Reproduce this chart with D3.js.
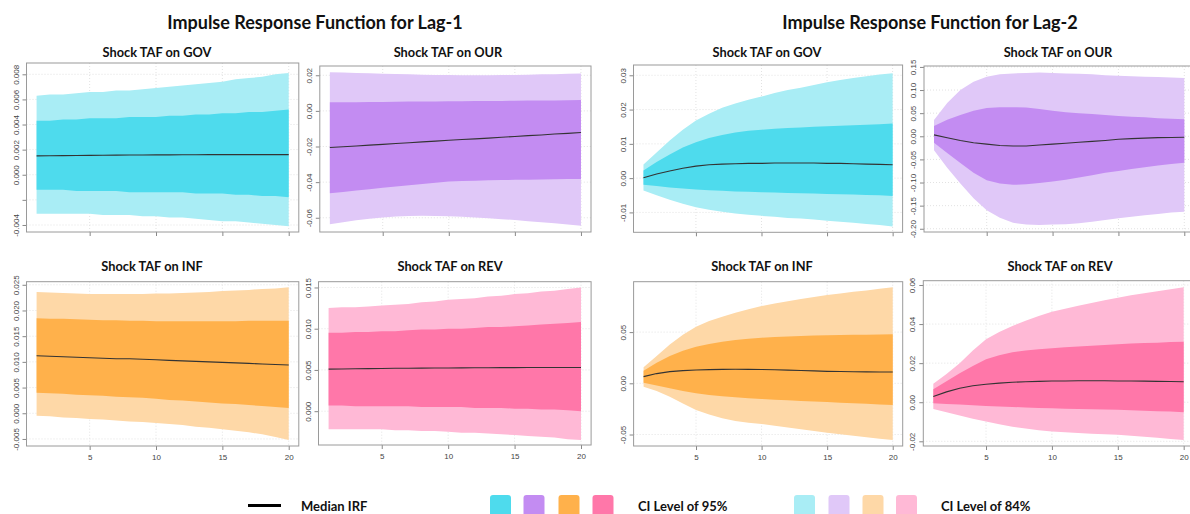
<!DOCTYPE html>
<html>
<head>
<meta charset="utf-8">
<script src="https://cdn.jsdelivr.net/npm/d3@7"></script>
<style>
  body { margin: 0; background: #fff; }
  .ttl { font-family: Lato, "Open Sans", sans-serif; font-weight: 700; fill: #111; }
  .tick text { font-family: "Liberation Sans", Arial, sans-serif; font-size: 8px; fill: #444; }
</style>
</head>
<body>
<svg width="1190" height="514"></svg>
<script>
const steps = d3.range(1, 21);
const xTicks = [5, 10, 15, 20];

// Lag-1, shock TAF on GOV
const gov1_hi84 = [0.0063,0.0064,0.0064,0.0065,0.0066,0.0066,0.0067,0.0067,0.0068,0.0069,0.0070,0.0071,0.0072,0.0073,0.0074,0.0076,0.0077,0.0078,0.0080,0.0081];
const gov1_hi95 = [0.0043,0.0043,0.0044,0.0044,0.0045,0.0045,0.0045,0.0046,0.0046,0.0046,0.0047,0.0047,0.0048,0.0048,0.0049,0.0049,0.0050,0.0050,0.0051,0.0052];
const gov1_med  = [0.00150,0.00151,0.00152,0.00153,0.00154,0.00155,0.00156,0.00157,0.00157,0.00158,0.00158,0.00159,0.00159,0.00160,0.00160,0.00160,0.00160,0.00160,0.00160,0.00160];
const gov1_lo95 = [-0.0012,-0.0012,-0.0012,-0.0013,-0.0013,-0.0013,-0.0013,-0.0014,-0.0014,-0.0014,-0.0014,-0.0014,-0.0015,-0.0015,-0.0015,-0.0016,-0.0016,-0.0017,-0.0017,-0.0018];
const gov1_lo84 = [-0.0031,-0.0031,-0.0031,-0.0031,-0.0031,-0.0032,-0.0032,-0.0032,-0.0033,-0.0033,-0.0034,-0.0034,-0.0035,-0.0036,-0.0037,-0.0037,-0.0038,-0.0039,-0.0040,-0.0041];

// Lag-1, shock TAF on OUR
const our1_hi84 = [0.0217,0.0215,0.0213,0.0211,0.0209,0.0207,0.0205,0.0203,0.0202,0.0201,0.0200,0.0200,0.0200,0.0201,0.0202,0.0203,0.0205,0.0206,0.0208,0.0210];
const our1_hi95 = [0.0048,0.0049,0.0049,0.0050,0.0050,0.0051,0.0052,0.0052,0.0053,0.0054,0.0054,0.0055,0.0056,0.0056,0.0057,0.0058,0.0058,0.0059,0.0060,0.0061];
const our1_med  = [-0.0206,-0.0201,-0.0197,-0.0192,-0.0188,-0.0183,-0.0179,-0.0174,-0.0170,-0.0165,-0.0161,-0.0157,-0.0153,-0.0148,-0.0144,-0.0139,-0.0135,-0.0130,-0.0126,-0.0121];
const our1_lo95 = [-0.0463,-0.0455,-0.0447,-0.0440,-0.0432,-0.0425,-0.0418,-0.0411,-0.0404,-0.0397,-0.0394,-0.0392,-0.0390,-0.0388,-0.0387,-0.0386,-0.0385,-0.0384,-0.0383,-0.0382];
const our1_lo84 = [-0.0637,-0.0625,-0.0614,-0.0605,-0.0598,-0.0593,-0.0590,-0.0589,-0.0590,-0.0592,-0.0595,-0.0599,-0.0603,-0.0608,-0.0613,-0.0619,-0.0625,-0.0631,-0.0638,-0.0645];

// Lag-2, shock TAF on GOV
const gov2_hi84 = [0.0040,0.0075,0.0110,0.0141,0.0168,0.0188,0.0205,0.0218,0.0229,0.0238,0.0248,0.0257,0.0264,0.0272,0.0280,0.0286,0.0292,0.0297,0.0302,0.0306];
const gov2_hi95 = [0.0022,0.0047,0.0069,0.0089,0.0105,0.0117,0.0126,0.0133,0.0138,0.0141,0.0144,0.0146,0.0148,0.0150,0.0151,0.0153,0.0154,0.0156,0.0157,0.0159];
const gov2_med  = [0.0001,0.0012,0.0021,0.0029,0.0035,0.0039,0.0041,0.0042,0.0043,0.0043,0.0044,0.0044,0.0044,0.0044,0.0043,0.0043,0.0042,0.0041,0.0040,0.0039];
const gov2_lo95 = [-0.0019,-0.0023,-0.0027,-0.0030,-0.0033,-0.0035,-0.0037,-0.0039,-0.0040,-0.0041,-0.0042,-0.0043,-0.0044,-0.0045,-0.0046,-0.0047,-0.0048,-0.0049,-0.0050,-0.0052];
const gov2_lo84 = [-0.0036,-0.0050,-0.0063,-0.0075,-0.0085,-0.0092,-0.0098,-0.0103,-0.0107,-0.0110,-0.0113,-0.0116,-0.0118,-0.0121,-0.0124,-0.0127,-0.0130,-0.0134,-0.0137,-0.0141];

// Lag-2, shock TAF on OUR
const our2_hi84 = [0.035,0.072,0.100,0.118,0.129,0.134,0.136,0.137,0.138,0.137,0.136,0.135,0.134,0.132,0.131,0.130,0.129,0.128,0.127,0.126];
const our2_hi95 = [0.022,0.036,0.046,0.055,0.061,0.063,0.063,0.062,0.059,0.055,0.052,0.050,0.048,0.046,0.044,0.042,0.041,0.039,0.038,0.037];
const our2_med  = [0.003,-0.003,-0.009,-0.014,-0.017,-0.020,-0.021,-0.021,-0.019,-0.017,-0.015,-0.013,-0.011,-0.009,-0.0065,-0.005,-0.004,-0.003,-0.0025,-0.002];
const our2_lo95 = [-0.014,-0.036,-0.058,-0.079,-0.095,-0.102,-0.105,-0.104,-0.101,-0.098,-0.094,-0.089,-0.084,-0.079,-0.075,-0.071,-0.067,-0.063,-0.060,-0.057];
const our2_lo84 = [-0.030,-0.068,-0.102,-0.134,-0.160,-0.176,-0.187,-0.191,-0.192,-0.191,-0.190,-0.188,-0.185,-0.181,-0.177,-0.174,-0.171,-0.168,-0.165,-0.163];

// Lag-1, shock TAF on INF
const inf1_hi84 = [0.0236,0.0235,0.0234,0.0233,0.0232,0.0232,0.0232,0.0232,0.0232,0.0233,0.0233,0.0234,0.0235,0.0236,0.0238,0.0239,0.0240,0.0242,0.0243,0.0245];
const inf1_hi95 = [0.0185,0.0184,0.0184,0.0183,0.0182,0.0181,0.0181,0.0180,0.0180,0.0179,0.0179,0.0179,0.0179,0.0179,0.0179,0.0179,0.0180,0.0180,0.0180,0.0180];
const inf1_med  = [0.0112,0.0111,0.0110,0.0109,0.0108,0.0107,0.0106,0.0106,0.0105,0.0104,0.0103,0.0102,0.0101,0.0100,0.0099,0.0098,0.0097,0.0096,0.0095,0.0094];
const inf1_lo95 = [0.0040,0.0039,0.0038,0.0036,0.0035,0.0034,0.0032,0.0031,0.0030,0.0028,0.0026,0.0025,0.0023,0.0021,0.0019,0.0018,0.0016,0.0014,0.0012,0.0010];
const inf1_lo84 = [-0.0005,-0.0006,-0.0008,-0.0009,-0.0011,-0.0012,-0.0014,-0.0016,-0.0017,-0.0019,-0.0021,-0.0023,-0.0026,-0.0028,-0.0031,-0.0034,-0.0037,-0.0041,-0.0046,-0.0052];

// Lag-1, shock TAF on REV
const rev1_hi84 = [0.0125,0.0126,0.0126,0.0127,0.0128,0.0129,0.0130,0.0132,0.0133,0.0135,0.0136,0.0137,0.0139,0.0140,0.0142,0.0143,0.0145,0.0146,0.0148,0.0150];
const rev1_hi95 = [0.0095,0.0095,0.0096,0.0096,0.0097,0.0097,0.0098,0.0099,0.0099,0.0100,0.0100,0.0101,0.0102,0.0102,0.0103,0.0104,0.0105,0.0106,0.0107,0.0108];
const rev1_med  = [0.00510,0.00512,0.00514,0.00516,0.00518,0.00520,0.00521,0.00522,0.00523,0.00524,0.00525,0.00526,0.00527,0.00528,0.00528,0.00529,0.00529,0.00530,0.00530,0.00530];
const rev1_lo95 = [0.0007,0.0007,0.0006,0.0006,0.0006,0.0006,0.0006,0.0005,0.0005,0.0005,0.0005,0.0004,0.0004,0.0004,0.0003,0.0003,0.0002,0.0002,0.0001,0.0000];
const rev1_lo84 = [-0.0022,-0.0022,-0.0022,-0.0022,-0.0022,-0.0023,-0.0023,-0.0024,-0.0024,-0.0025,-0.0026,-0.0026,-0.0027,-0.0028,-0.0029,-0.0030,-0.0031,-0.0032,-0.0034,-0.0035];

// Lag-2, shock TAF on INF
const inf2_hi84 = [0.0156,0.0267,0.0380,0.0475,0.0553,0.0608,0.0650,0.0688,0.0722,0.0755,0.0779,0.0801,0.0822,0.0843,0.0862,0.0878,0.0893,0.0907,0.0922,0.0938];
const inf2_hi95 = [0.0123,0.0200,0.0267,0.0318,0.0357,0.0385,0.0406,0.0423,0.0435,0.0445,0.0452,0.0458,0.0462,0.0466,0.0469,0.0471,0.0473,0.0475,0.0477,0.0478];
const inf2_med  = [0.0065,0.0095,0.0114,0.0124,0.0130,0.0134,0.0136,0.0137,0.0136,0.0135,0.0133,0.0129,0.0125,0.0121,0.0117,0.0115,0.0113,0.0112,0.0111,0.0110];
const inf2_lo95 = [0.0006,-0.0022,-0.0049,-0.0076,-0.0098,-0.0113,-0.0126,-0.0137,-0.0146,-0.0153,-0.0160,-0.0166,-0.0172,-0.0178,-0.0183,-0.0189,-0.0195,-0.0200,-0.0206,-0.0212];
const inf2_lo84 = [-0.0033,-0.0075,-0.0130,-0.0198,-0.0260,-0.0305,-0.0342,-0.0368,-0.0385,-0.0397,-0.0414,-0.0431,-0.0448,-0.0465,-0.0482,-0.0497,-0.0511,-0.0526,-0.0540,-0.0554];

// Lag-2, shock TAF on REV
const rev2_hi84 = [0.0094,0.0145,0.0200,0.0265,0.0322,0.0360,0.0390,0.0417,0.0441,0.0463,0.0479,0.0494,0.0508,0.0522,0.0535,0.0547,0.0558,0.0568,0.0578,0.0588];
const rev2_hi95 = [0.0066,0.0108,0.0148,0.0186,0.0220,0.0241,0.0256,0.0265,0.0271,0.0276,0.0281,0.0285,0.0289,0.0293,0.0297,0.0300,0.0303,0.0305,0.0308,0.0310];
const rev2_med  = [0.0029,0.0053,0.0072,0.0084,0.0092,0.0098,0.0102,0.0105,0.0107,0.0109,0.0109,0.0110,0.0110,0.0110,0.0109,0.0109,0.0108,0.0107,0.0106,0.0105];
const rev2_lo95 = [-0.0005,-0.0009,-0.0012,-0.0016,-0.0019,-0.0022,-0.0024,-0.0027,-0.0029,-0.0031,-0.0033,-0.0034,-0.0036,-0.0037,-0.0039,-0.0041,-0.0043,-0.0046,-0.0048,-0.0051];
const rev2_lo84 = [-0.0034,-0.0051,-0.0068,-0.0084,-0.0099,-0.0113,-0.0125,-0.0134,-0.0143,-0.0150,-0.0154,-0.0158,-0.0161,-0.0164,-0.0167,-0.0172,-0.0177,-0.0182,-0.0188,-0.0193];

// y tick values and labels (R drops some labels)
const gov1_ticks = [0.008, 0.006, 0.004, 0.002, 0.000, -0.002, -0.004];
const gov1_labels = ["0.008", "0.006", "0.004", "0.002", "0.000", "", "-0.004"];
const our1_ticks = [0.02, 0.00, -0.02, -0.04, -0.06];
const our1_labels = ["0.02", "0.00", "-0.02", "-0.04", "-0.06"];
const gov2_ticks = [0.03, 0.02, 0.01, 0.00, -0.01];
const gov2_labels = ["0.03", "0.02", "0.01", "0.00", "-0.01"];
const our2_ticks = [0.15, 0.10, 0.05, 0.00, -0.05, -0.10, -0.15, -0.20];
const our2_labels = ["0.15", "0.10", "0.05", "0.00", "-0.05", "-0.10", "-0.15", "-0.20"];
const inf1_ticks = [0.025, 0.020, 0.015, 0.010, 0.005, 0.000, -0.005];
const inf1_labels = ["0.025", "0.020", "0.015", "0.010", "0.005", "0.000", "-0.005"];
const rev1_ticks = [0.015, 0.010, 0.005, 0.000];
const rev1_labels = ["0.015", "0.010", "0.005", "0.000"];
const inf2_ticks = [0.05, 0.00, -0.05];
const inf2_labels = ["0.05", "0.00", "-0.05"];
const rev2_ticks = [0.06, 0.04, 0.02, 0.00, -0.02];
const rev2_labels = ["0.06", "0.04", "0.02", "0.00", "-0.02"];

const colors = {
  cyan:   { dark: "#4edbed", light: "#a9edf5" },
  purple: { dark: "#c38cf2", light: "#e0c8f8" },
  orange: { dark: "#ffb14b", light: "#fed8a7" },
  pink:   { dark: "#ff77a9", light: "#ffb9d6" }
};

// layout: plot box [left, top, right, bottom] and y domain for each panel
const panels = [
  { title: "Shock TAF on GOV", tx: 157, ty: 57, box: [26.5, 63, 298.8, 232], dom: [-0.00456, 0.0089], c: colors.cyan,
    hi84: gov1_hi84, hi95: gov1_hi95, med: gov1_med, lo95: gov1_lo95, lo84: gov1_lo84, ticks: gov1_ticks, labels: gov1_labels, xlab: false },
  { title: "Shock TAF on OUR", tx: 448, ty: 57, box: [319.8, 66, 591, 232], dom: [-0.068, 0.0252], c: colors.purple,
    hi84: our1_hi84, hi95: our1_hi95, med: our1_med, lo95: our1_lo95, lo84: our1_lo84, ticks: our1_ticks, labels: our1_labels, xlab: false },
  { title: "Shock TAF on GOV", tx: 767, ty: 57, box: [633.5, 65, 902.6, 232.3], dom: [-0.0158, 0.033], c: colors.cyan,
    hi84: gov2_hi84, hi95: gov2_hi95, med: gov2_med, lo95: gov2_lo95, lo84: gov2_lo84, ticks: gov2_ticks, labels: gov2_labels, xlab: false },
  { title: "Shock TAF on OUR", tx: 1058, ty: 57, box: [924, 66, 1194.3, 232], dom: [-0.207, 0.152], c: colors.purple,
    hi84: our2_hi84, hi95: our2_hi95, med: our2_med, lo95: our2_lo95, lo84: our2_lo84, ticks: our2_ticks, labels: our2_labels, xlab: false },
  { title: "Shock TAF on INF", tx: 152, ty: 271, box: [26.5, 281.7, 298.8, 446], dom: [-0.00637, 0.0256], c: colors.orange,
    hi84: inf1_hi84, hi95: inf1_hi95, med: inf1_med, lo95: inf1_lo95, lo84: inf1_lo84, ticks: inf1_ticks, labels: inf1_labels, xlab: true },
  { title: "Shock TAF on REV", tx: 450, ty: 271, box: [318.5, 281.7, 591.1, 445], dom: [-0.0041, 0.0157], c: colors.pink,
    hi84: rev1_hi84, hi95: rev1_hi95, med: rev1_med, lo95: rev1_lo95, lo84: rev1_lo84, ticks: rev1_ticks, labels: rev1_labels, xlab: true },
  { title: "Shock TAF on INF", tx: 762, ty: 271, box: [633.6, 281.7, 902.7, 446], dom: [-0.0612, 0.0992], c: colors.orange,
    hi84: inf2_hi84, hi95: inf2_hi95, med: inf2_med, lo95: inf2_lo95, lo84: inf2_lo84, ticks: inf2_ticks, labels: inf2_labels, xlab: true },
  { title: "Shock TAF on REV", tx: 1060, ty: 271, box: [923.3, 280.7, 1193.7, 446], dom: [-0.0224, 0.0622], c: colors.pink,
    hi84: rev2_hi84, hi95: rev2_hi95, med: rev2_med, lo95: rev2_lo95, lo84: rev2_lo84, ticks: rev2_ticks, labels: rev2_labels, xlab: true }
];

const svg = d3.select("svg");

svg.append("text").attr("class", "ttl").attr("x", 315).attr("y", 28.5)
  .attr("text-anchor", "middle").attr("font-size", 18).text("Impulse Response Function for Lag-1");
svg.append("text").attr("class", "ttl").attr("x", 930).attr("y", 28.5)
  .attr("text-anchor", "middle").attr("font-size", 18).text("Impulse Response Function for Lag-2");

panels.forEach(p => {
  const [l, t, r, b] = p.box;
  const x = d3.scaleLinear().domain([0.24, 20.76]).range([l, r]);
  const y = d3.scaleLinear().domain(p.dom).range([b, t]);
  const g = svg.append("g");

  // dotted grid
  g.selectAll(".gx").data(xTicks).enter().append("line")
    .attr("x1", d => x(d)).attr("x2", d => x(d)).attr("y1", t).attr("y2", b)
    .attr("stroke", "#e2e2e2").attr("stroke-dasharray", "1,2");
  g.selectAll(".gy").data(p.ticks).enter().append("line")
    .attr("x1", l).attr("x2", r).attr("y1", d => y(d)).attr("y2", d => y(d))
    .attr("stroke", "#e2e2e2").attr("stroke-dasharray", "1,2");

  const band = (lo, hi) => d3.area()
    .x((d, i) => x(steps[i]))
    .y0((d, i) => y(lo[i]))
    .y1((d, i) => y(hi[i]));

  g.append("path").datum(steps).attr("d", band(p.lo84, p.hi84)).attr("fill", p.c.light);
  g.append("path").datum(steps).attr("d", band(p.lo95, p.hi95)).attr("fill", p.c.dark);

  g.append("path").datum(steps)
    .attr("d", d3.line().x((d, i) => x(steps[i])).y((d, i) => y(p.med[i])))
    .attr("fill", "none").attr("stroke", "#333").attr("stroke-width", 1.1);

  // axes
  const xAxis = d3.axisBottom(x).tickValues(xTicks).tickSize(4).tickPadding(4)
    .tickFormat(d => p.xlab ? d : "");
  g.append("g").attr("transform", `translate(0,${b})`).call(xAxis)
    .call(a => a.select(".domain").remove())
    .selectAll("line").attr("stroke", "#888");

  const yAxis = d3.axisLeft(y).tickValues(p.ticks).tickSize(4).tickPadding(3)
    .tickFormat((d, i) => p.labels[i]);
  const ya = g.append("g").attr("transform", `translate(${l},0)`).call(yAxis);
  ya.select(".domain").remove();
  ya.selectAll("line").attr("stroke", "#888");
  ya.selectAll("text")
    .attr("text-anchor", "middle")
    .attr("x", null).attr("dy", null)
    .attr("transform", "translate(-8,0) rotate(-90)");

  g.append("rect").attr("x", l).attr("y", t).attr("width", r - l).attr("height", b - t)
    .attr("fill", "none").attr("stroke", "#9a9a9a").attr("stroke-width", 1);

  g.append("text").attr("class", "ttl").attr("x", p.tx).attr("y", p.ty)
    .attr("text-anchor", "middle").attr("font-size", 12.8).text(p.title);
});

// legend
const legend = svg.append("g");
legend.append("line").attr("x1", 248).attr("x2", 281).attr("y1", 505.5).attr("y2", 505.5)
  .attr("stroke", "#000").attr("stroke-width", 3);
legend.append("text").attr("class", "ttl").attr("x", 301).attr("y", 511).attr("font-size", 13).text("Median IRF");

const order = [colors.cyan, colors.purple, colors.orange, colors.pink];
const darkX = [490, 523.5, 558.5, 592.5];
const lightX = [794, 828.5, 862.5, 896];
legend.selectAll(".dk").data(order).enter().append("rect")
  .attr("x", (d, i) => darkX[i]).attr("y", 495).attr("width", 21).attr("height", 24).attr("rx", 3)
  .attr("fill", d => d.dark);
legend.selectAll(".lt").data(order).enter().append("rect")
  .attr("x", (d, i) => lightX[i]).attr("y", 495).attr("width", 21).attr("height", 24).attr("rx", 3)
  .attr("fill", d => d.light);
legend.append("text").attr("class", "ttl").attr("x", 638).attr("y", 511).attr("font-size", 13).text("CI Level of 95%");
legend.append("text").attr("class", "ttl").attr("x", 941).attr("y", 511).attr("font-size", 13).text("CI Level of 84%");
</script>
</body>
</html>
